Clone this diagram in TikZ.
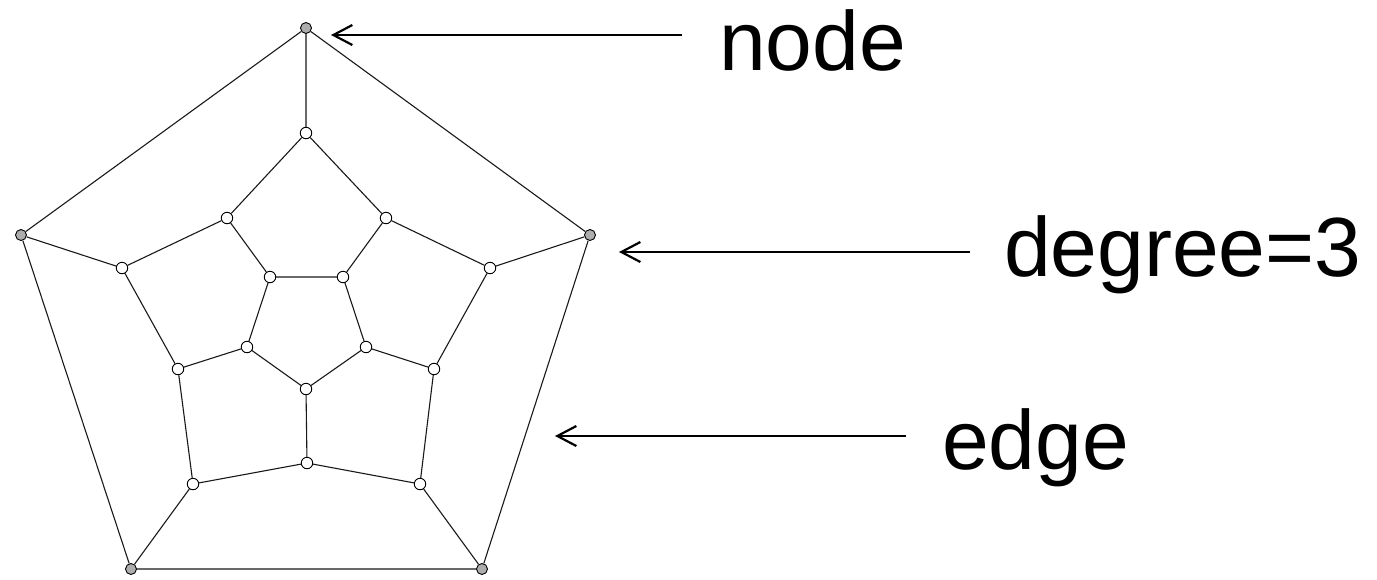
\documentclass[tikz,border=0pt]{standalone}
\usepackage{fontspec}
\setmainfont{Liberation Sans}
\usetikzlibrary{arrows.meta}
\tikzset{
  vtx/.style={circle, draw=black, line width=0.9pt, fill=white, minimum size=11.5pt, inner sep=0pt},
  hub/.style={vtx, fill=black!32, minimum size=11pt},
  link/.style={draw=black!90, line width=1.1pt},
  pointer/.style={draw=black, line width=2.2pt, -{Straight Barb[length=19pt, width=20pt, line width=2.2pt]}},
  caption/.style={anchor=base west, inner sep=0pt, font=\fontsize{84}{100}\selectfont}
}
\begin{document}
\begin{tikzpicture}[x=1pt, y=-1pt]
\useasboundingbox (0,0) rectangle (1377,579);
% outer pentagon
\node[hub] (o1) at (306,28) {};
\node[hub] (o2) at (590,235) {};
\node[hub] (o3) at (482,569) {};
\node[hub] (o4) at (131,569) {};
\node[hub] (o5) at (21,235) {};
% middle ring
\node[vtx] (m1) at (306,133) {};
\node[vtx] (m2) at (386,218) {};
\node[vtx] (m3) at (490,268) {};
\node[vtx] (m4) at (434,369) {};
\node[vtx] (m5) at (420,484) {};
\node[vtx] (m6) at (307,463) {};
\node[vtx] (m7) at (193,484) {};
\node[vtx] (m8) at (178,369) {};
\node[vtx] (m9) at (122,268) {};
\node[vtx] (m10) at (227,218) {};
% inner pentagon
\node[vtx] (i1) at (270,277) {};
\node[vtx] (i2) at (343,277) {};
\node[vtx] (i3) at (366,347) {};
\node[vtx] (i4) at (306,389) {};
\node[vtx] (i5) at (247,347) {};
% edges
\path[link] (o1) -- (o2) (o2) -- (o3) (o3) -- (o4) (o4) -- (o5) (o5) -- (o1);
\path[link] (o1) -- (m1) (o2) -- (m3) (o3) -- (m5) (o4) -- (m7) (o5) -- (m9);
\path[link] (m1) -- (m2) (m2) -- (m3) (m3) -- (m4) (m4) -- (m5) (m5) -- (m6)
            (m6) -- (m7) (m7) -- (m8) (m8) -- (m9) (m9) -- (m10) (m10) -- (m1);
\path[link] (m2) -- (i2) (m4) -- (i3) (m6) -- (i4) (m8) -- (i5) (m10) -- (i1);
\path[link] (i1) -- (i2) (i2) -- (i3) (i3) -- (i4) (i4) -- (i5) (i5) -- (i1);
% labels and pointers
\node[caption] (lnode) at (719,70) {node};
\node[caption] (ldeg) at (1004,276) {degree=3};
\node[caption] (ledge) at (942,469) {edge};
\coordinate (s1) at (682,35);
\coordinate (t1) at (331,35);
\coordinate (s2) at (970,252);
\coordinate (t2) at (619,252);
\coordinate (s3) at (906,436);
\coordinate (t3) at (555,436);
\draw[pointer] (s1) -- (t1);
\draw[pointer] (s2) -- (t2);
\draw[pointer] (s3) -- (t3);
\end{tikzpicture}
\end{document}
